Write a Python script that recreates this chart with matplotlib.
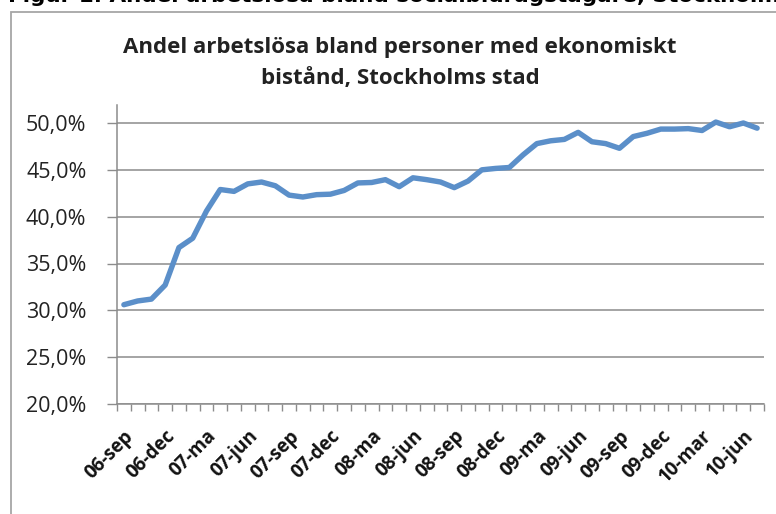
import matplotlib
matplotlib.use("Agg")
import matplotlib.pyplot as plt
from matplotlib.patches import Rectangle
from matplotlib.ticker import FixedLocator, FuncFormatter

# ---- data ----
months = ["06-sep", "06-okt", "06-nov", "06-dec",
          "07-jan", "07-feb", "07-ma", "07-apr", "07-maj", "07-jun", "07-jul", "07-aug",
          "07-sep", "07-okt", "07-nov", "07-dec",
          "08-jan", "08-feb", "08-ma", "08-apr", "08-maj", "08-jun", "08-jul", "08-aug",
          "08-sep", "08-okt", "08-nov", "08-dec",
          "09-jan", "09-feb", "09-ma", "09-apr", "09-maj", "09-jun", "09-jul", "09-aug",
          "09-sep", "09-okt", "09-nov", "09-dec",
          "10-jan", "10-feb", "10-mar", "10-apr", "10-maj", "10-jun", "10-jul"]
values = [30.6, 31.0, 31.2, 32.7, 36.7, 37.7, 40.6, 42.9, 42.7, 43.5, 43.7, 43.3,
          42.3, 42.1, 42.35, 42.4, 42.8, 43.6, 43.65, 43.95, 43.2, 44.15, 43.95, 43.7,
          43.1, 43.8, 45.0, 45.15, 45.25, 46.6, 47.8, 48.1, 48.25, 49.0, 48.0, 47.8,
          47.3, 48.55, 48.9, 49.35, 49.35, 49.4, 49.2, 50.1, 49.6, 50.0, 49.45]
label_every = 3
yticks = [20, 25, 30, 35, 40, 45, 50]
title = "Andel arbetslösa bland personer med ekonomiskt\nbistånd, Stockholms stad"
top_caption = "Figur 1. Andel arbetslösa bland socialbidragstagare, Stockholm"

font = "Open Sans"
W, H = 776, 514
fig = plt.figure(figsize=(W / 100, H / 100), dpi=100)
fig.patch.set_facecolor("white")

# clipped caption at top
fig.text(8 / W, 1 + 4 / H, top_caption, ha="left", va="center",
         fontsize=15.5, fontweight="heavy", family="DejaVu Sans", color="black")

# chart frame
fig.add_artist(Rectangle((11 / W, -0.1), 1.2, 1 - 12 / H + 0.1,
                         transform=fig.transFigure, fill=False,
                         ec="#a6a6a6", lw=1.3))

ax = fig.add_axes([117 / W, 1 - 404 / H, (764 - 117) / W, (404 - 105) / H])
x = list(range(len(values)))
ax.plot(x, values, color="#5B8FC9", lw=3.9, solid_joinstyle="round",
        solid_capstyle="round", zorder=3)

ax.set_xlim(-0.5, len(values) - 0.5)
ax.set_ylim(20, 50 + 18 / (281 / 30))

ax.yaxis.set_major_locator(FixedLocator(yticks))
ax.yaxis.set_major_formatter(FuncFormatter(lambda v, p: f"{v:.1f}%".replace(".", ",")))
ax.grid(axis="y", color="#8c8c8c", lw=1.1)
ax.set_axisbelow(True)

ax.set_xticks([i for i in x if i % label_every == 0])
ax.set_xticklabels([months[i] for i in x if i % label_every == 0],
                   rotation=45, ha="right", va="top", rotation_mode="anchor",
                   fontsize=13.5, fontweight="bold", family=font, color="#111")
ax.set_xticks([i - 0.5 for i in range(len(values) + 1)], minor=True)
ax.tick_params(axis="x", which="major", length=0, pad=16)
ax.tick_params(axis="x", which="minor", length=5, width=1, color="#8c8c8c", direction="out")
ax.tick_params(axis="y", length=7, width=1, color="#8c8c8c", pad=15, labelsize=15.5)
for lab in ax.get_yticklabels():
    lab.set_family(font)
    lab.set_color("#222")

for s in ["top", "right"]:
    ax.spines[s].set_visible(False)
for s in ["left", "bottom"]:
    ax.spines[s].set_color("#8c8c8c")
    ax.spines[s].set_linewidth(1.1)

fig.text(400 / W, 1 - 63 / H, title, ha="center", va="center",
         fontsize=16, fontweight="bold", family=font, color="#222",
         linespacing=1.65)

fig.savefig("out.png", dpi=100, facecolor="white")
